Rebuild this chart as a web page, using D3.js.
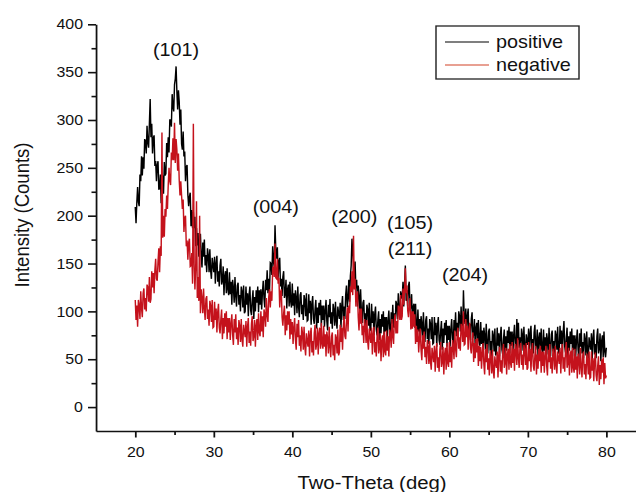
<!DOCTYPE html>
<html>
<head>
<meta charset="utf-8">
<script src="https://cdn.jsdelivr.net/npm/d3@7"></script>
<style>
  html, body { margin: 0; padding: 0; background: #fff; }
  svg { display: block; }
</style>
</head>
<body>
<div id="chart"></div>
<script>
// Scan: 20 -> 80 deg, one reading every 0.1 deg
const angleStart = 20
const angleStep = 0.1

// Intensity (counts), one row = 2 deg
const positive = [
  209,192,214,230,214,210,243,236,262,242,261,249,280,278,265,294,276,271,296,322,
  282,296,265,281,284,252,257,236,253,257,227,229,243,213,233,242,223,256,242,244,
  276,261,282,266,300,300,293,327,314,309,337,343,356,330,311,331,319,295,311,275,
  269,288,262,267,236,251,253,222,210,220,224,189,206,187,204,187,199,168,187,169,
  182,157,172,181,158,146,172,157,175,148,159,141,166,159,141,165,143,134,156,148,
  141,157,129,150,158,131,142,126,148,155,128,132,147,117,137,142,119,145,123,117,
  141,118,131,107,133,125,109,136,116,105,127,130,107,117,100,126,121,104,127,98,
  100,126,107,119,95,117,126,101,96,112,122,92,115,100,122,109,126,99,122,107,
  123,102,120,132,113,104,133,122,143,119,134,121,151,150,138,168,152,147,190,164,
  155,167,135,152,156,126,134,116,136,142,114,118,133,103,123,128,105,131,110,104,
  129,106,119,96,122,114,98,126,105,94,117,120,97,107,91,117,112,95,119,90,
  91,118,98,111,86,108,116,92,87,102,112,82,104,88,109,96,112,84,106,91,
  106,84,101,112,90,80,107,94,113,87,99,82,108,102,85,110,90,82,105,98,
  92,109,83,106,116,91,105,92,117,127,104,113,133,110,137,148,176,161,150,132,
  152,124,133,105,127,116,98,123,100,88,109,112,88,98,81,107,102,85,109,80,
  81,108,88,100,75,97,105,81,75,91,100,70,92,77,97,84,100,72,94,79,
  94,72,90,101,81,71,99,87,107,83,98,83,111,107,92,119,101,95,121,116,
  113,131,105,128,148,111,122,105,127,131,102,104,118,86,105,108,83,108,85,78,
  102,79,92,69,95,87,72,99,79,68,91,95,71,82,66,92,87,71,94,66,
  67,94,75,88,63,85,94,70,65,80,90,60,82,67,88,75,91,63,85,70,
  85,63,81,92,72,63,91,79,99,74,88,72,100,95,79,105,85,78,122,94,
  87,103,75,95,103,76,87,70,92,99,72,76,92,62,83,88,65,91,70,64,
  89,66,80,56,83,75,60,87,67,56,79,82,59,69,53,80,75,58,82,54,
  56,83,64,77,53,75,84,60,55,71,81,51,74,59,80,67,84,56,79,64,
  79,57,75,86,65,55,92,70,88,62,73,56,82,76,59,84,62,54,76,69,
  65,82,55,77,85,59,71,56,78,86,60,65,81,52,72,78,55,82,61,56,
  81,59,73,50,77,70,55,83,63,53,76,80,58,69,53,80,75,60,84,56,
  58,85,66,80,56,78,90,63,57,73,83,52,74,59,79,66,82,53,75,60,
  75,53,70,81,60,50,77,63,82,56,68,51,77,71,54,79,58,50,73,66,
  60,77,50,72,81,55,66,51,74,82,56,61,77,48,69,75,52,79,58,52,
  62
]

const negative = [
  112,91,106,84,112,106,92,121,103,94,119,124,102,114,100,128,125,110,136,109,
  113,142,125,140,119,143,155,134,132,152,166,141,168,158,287,177,200,178,207,199,
  221,207,232,250,236,232,266,258,281,258,297,255,280,269,247,265,237,221,236,221,
  207,217,183,198,200,168,174,154,172,176,147,148,161,129,296,149,123,146,215,114,
  136,111,200,98,123,114,98,124,103,91,113,116,92,102,85,111,106,89,112,83,
  84,110,91,103,78,99,108,83,77,92,102,71,93,77,98,84,100,71,93,78,
  93,70,87,97,76,65,92,78,97,71,83,65,91,85,68,92,71,63,86,79,
  73,90,63,84,93,67,79,64,87,95,69,74,91,63,85,92,70,98,78,74,
  100,79,95,73,102,97,84,114,96,89,115,123,104,121,111,145,147,136,171,135,
  134,155,129,135,104,120,123,94,85,98,106,75,96,80,100,86,100,71,92,76,
  89,66,83,93,71,60,87,73,91,64,75,58,84,77,60,84,63,54,77,69,
  63,80,53,75,83,57,69,54,77,86,60,66,83,55,77,83,61,88,66,61,
  85,63,76,53,79,72,56,84,63,52,74,78,54,65,49,76,72,56,81,54,
  57,86,68,83,60,84,95,74,71,90,104,79,106,98,126,120,142,117,179,123,
  134,105,116,121,94,80,103,87,103,75,85,67,92,85,67,91,69,60,82,74,
  67,83,55,76,84,57,68,53,75,83,56,61,77,48,69,75,52,79,58,54,
  80,59,74,53,81,76,62,92,74,66,91,97,77,90,77,106,104,91,117,91,
  95,124,107,121,145,119,127,101,94,107,114,81,100,82,100,84,97,66,85,68,
  81,57,72,82,60,49,75,61,79,52,63,45,70,63,45,69,48,39,62,54,
  47,64,37,58,67,41,52,37,60,68,42,47,63,34,55,62,39,67,46,42,
  68,47,63,41,70,64,50,80,61,52,77,83,61,73,59,87,83,68,100,65,
  66,92,73,85,60,80,88,62,56,70,78,47,67,51,71,57,72,43,64,48,
  63,40,56,67,45,34,61,47,66,39,51,33,59,52,35,60,38,30,53,45,
  41,58,31,54,63,37,49,35,58,66,41,46,62,34,55,61,39,66,46,41,
  68,46,61,38,66,59,44,72,51,41,63,67,44,55,39,65,60,44,67,39,
  41,68,48,61,37,59,67,43,38,54,64,34,55,40,61,48,64,36,58,43,
  58,36,53,64,43,33,60,47,66,40,52,35,61,55,39,64,43,35,58,51,
  45,62,35,57,66,40,52,37,60,68,41,46,62,33,53,59,36,62,41,36,
  61,39,53,30,56,49,34,62,42,31,54,58,34,45,29,56,50,34,58,30,
  31,58,38,51,27,48,57,33,27,43,53,23,44,29,50,36,52,24,46,30,
  33
]

const xMajorTicks = [20, 30, 40, 50, 60, 70, 80]
const xMinorTicks = [25, 35, 45, 55, 65, 75, 85]
const yMajorTicks = [0, 50, 100, 150, 200, 250, 300, 350, 400]
const yMinorTicks = [25, 75, 125, 175, 225, 275, 325, 375]

// peak annotations (Miller indices), anchored in data units
const peakNames = ['(101)', '(004)', '(200)', '(105)', '(211)', '(204)']
const peakAngles = [25.2, 37.9, 47.9, 55.0, 55.0, 62.0]
const peakCounts = [367, 203, 192, 186, 159, 132]

const seriesNames = ['positive', 'negative']

function draw() {
  // the source figure is stretched sideways a bit, so draw in narrower units
  const stretch = 1.1
  const sx = v => v / stretch

  let dimensions = {
    width: 636,
    height: 492,
    left: 96,
    right: 645.6,
    top: 24.3,
    bottom: 431,
  }

  const font = '"Liberation Sans", Arial, Helvetica, sans-serif'
  const ink = '#111'

  const svg = d3.select('#chart')
    .append('svg')
    .attr('width', dimensions.width)
    .attr('height', dimensions.height)
    .attr('viewBox', `0 0 ${sx(dimensions.width)} ${dimensions.height}`)
    .attr('preserveAspectRatio', 'none')

  svg.append('rect')
    .attr('width', sx(dimensions.width))
    .attr('height', dimensions.height)
    .attr('fill', '#fff')

  // Scales
  const xScale = d3.scaleLinear()
    .domain([15, 85])
    .range([sx(dimensions.left), sx(dimensions.right)])

  const yScale = d3.scaleLinear()
    .domain([-25, 400])
    .range([dimensions.bottom, dimensions.top])

  const angleAt = i => angleStart + i * angleStep

  const lineGenerator = d3.line()
    .x((d, i) => xScale(angleAt(i)))
    .y(d => yScale(d))

  // Data lines (red drawn over black, as in the figure)
  svg.append('path')
    .datum(positive)
    .attr('d', lineGenerator)
    .attr('fill', 'none')
    .attr('stroke', '#000')
    .attr('stroke-width', 1.3)

  svg.append('path')
    .datum(negative)
    .attr('d', lineGenerator)
    .attr('fill', 'none')
    .attr('stroke', '#c4121c')
    .attr('stroke-width', 1.3)

  // Axes
  const styleAxis = g => {
    g.select('.domain').attr('stroke', ink).attr('stroke-width', 1.6)
    g.selectAll('.tick line').attr('stroke', ink).attr('stroke-width', 1.6)
    g.selectAll('.tick text')
      .attr('fill', ink)
      .style('font-family', font)
      .style('font-size', '14.5px')
  }

  const xAxis = d3.axisBottom(xScale)
    .tickValues(xMajorTicks)
    .tickSize(6.5)
    .tickSizeOuter(0)
    .tickPadding(9.5)
  svg.append('g')
    .attr('transform', `translate(0, ${dimensions.bottom})`)
    .call(xAxis)
    .call(styleAxis)

  const xMinor = d3.axisBottom(xScale)
    .tickValues(xMinorTicks)
    .tickSize(4)
    .tickSizeOuter(0)
    .tickFormat('')
  svg.append('g')
    .attr('transform', `translate(0, ${dimensions.bottom})`)
    .call(xMinor)
    .call(styleAxis)
    .select('.domain').remove()

  const yAxis = d3.axisLeft(yScale)
    .tickValues(yMajorTicks)
    .tickSize(sx(8))
    .tickSizeOuter(0)
    .tickPadding(sx(5))
  svg.append('g')
    .attr('transform', `translate(${xScale(15)}, 0)`)
    .call(yAxis)
    .call(styleAxis)

  const yMinor = d3.axisLeft(yScale)
    .tickValues(yMinorTicks)
    .tickSize(sx(4.5))
    .tickSizeOuter(0)
    .tickFormat('')
  svg.append('g')
    .attr('transform', `translate(${xScale(15)}, 0)`)
    .call(yMinor)
    .call(styleAxis)
    .select('.domain').remove()

  // Axis titles
  svg.append('text')
    .attr('x', sx(372))
    .attr('y', 489)
    .attr('text-anchor', 'middle')
    .style('font-family', font)
    .style('font-size', '18.5px')
    .attr('fill', ink)
    .text('Two-Theta (deg)')

  svg.append('text')
    .attr('transform', `translate(${sx(29)}, 215) rotate(-90)`)
    .attr('text-anchor', 'middle')
    .style('font-family', font)
    .style('font-size', '18.5px')
    .attr('fill', ink)
    .text('Intensity (Counts)')

  // Peak labels
  svg.selectAll('.peak')
    .data(peakNames)
    .join('text')
    .attr('class', 'peak')
    .attr('x', (d, i) => xScale(peakAngles[i]))
    .attr('y', (d, i) => yScale(peakCounts[i]))
    .attr('text-anchor', 'middle')
    .style('font-family', font)
    .style('font-size', '18px')
    .attr('fill', ink)
    .text(d => d)

  // Legend
  const legend = svg.append('g')
  legend.append('rect')
    .attr('x', sx(436))
    .attr('y', 26)
    .attr('width', sx(143))
    .attr('height', 53)
    .attr('fill', '#fff')
    .attr('stroke', '#222')
    .attr('stroke-width', 1.3)

  const legendColors = ['#555', '#e0806e']
  seriesNames.forEach((name, i) => {
    const ly = 42 + i * 23
    legend.append('line')
      .attr('x1', sx(445))
      .attr('x2', sx(489))
      .attr('y1', ly)
      .attr('y2', ly)
      .attr('stroke', legendColors[i])
      .attr('stroke-width', 1.4)
    legend.append('text')
      .attr('x', sx(496))
      .attr('y', ly + 6)
      .style('font-family', font)
      .style('font-size', '18px')
      .attr('fill', ink)
      .text(name)
  })
}

draw()
</script>
</body>
</html>
